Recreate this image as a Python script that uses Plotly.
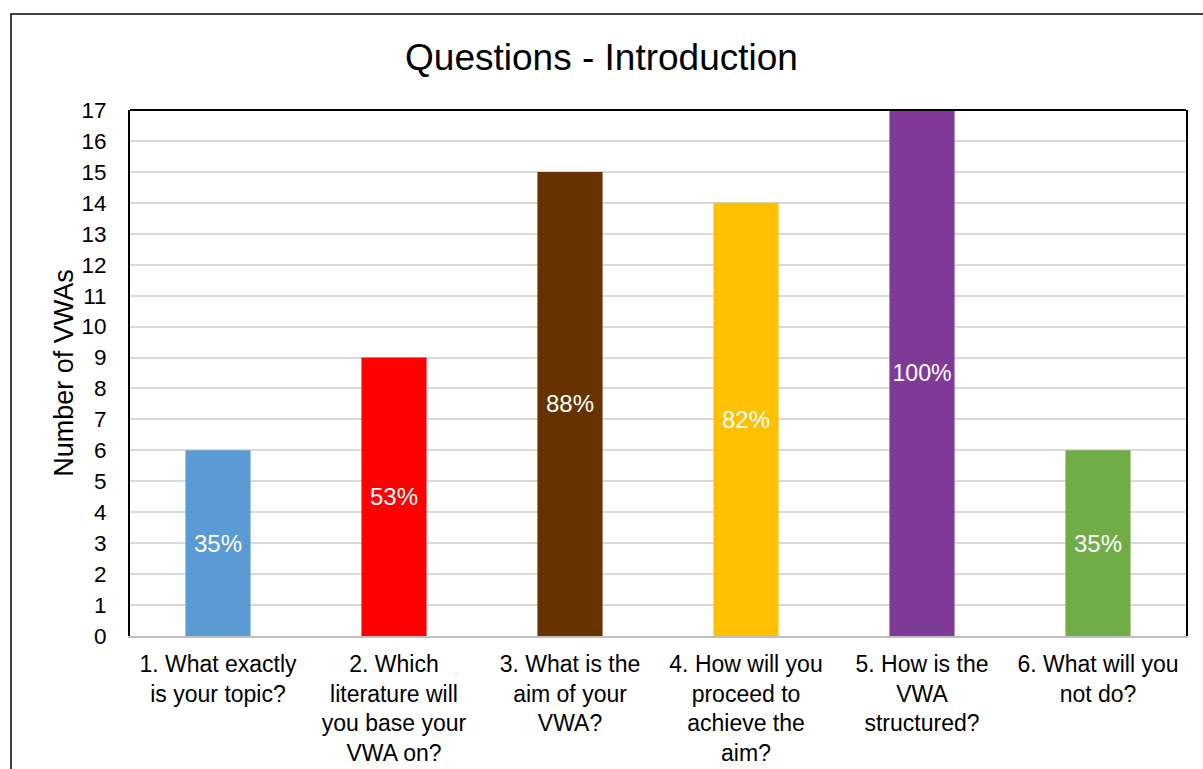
import plotly.graph_objects as go

# Survey counts per introduction question (out of 17 VWAs)
questions = [
    "1. What exactly<br>is your topic?",
    "2. Which<br>literature will<br>you base your<br>VWA on?",
    "3. What is the<br>aim of your<br>VWA?",
    "4. How will you<br>proceed to<br>achieve the<br>aim?",
    "5. How is the<br>VWA<br>structured?",
    "6. What will you<br>not do?",
]
counts = [6, 9, 15, 14, 17, 6]
share_labels = ["35%", "53%", "88%", "82%", "100%", "35%"]
bar_colors = ["#5B9BD5", "#FF0000", "#663300", "#FFC000", "#7E3A96", "#70AD47"]
y_ticks = list(range(0, 18))

font_family = "Liberation Sans, Arial, sans-serif"

fig = go.Figure(
    go.Bar(
        x=questions,
        y=counts,
        text=share_labels,
        textposition="inside",
        insidetextanchor="middle",
        textangle=0,
        textfont=dict(color="white", size=24, family=font_family),
        marker=dict(color=bar_colors, line=dict(width=0)),
        hoverinfo="skip",
    )
)

fig.update_layout(
    width=1203,
    height=769,
    margin=dict(l=130, r=17, t=110, b=133),
    paper_bgcolor="white",
    plot_bgcolor="white",
    bargap=0.63,
    showlegend=False,
    font=dict(family=font_family, color="#000000"),
    title=dict(
        text="Questions - Introduction",
        x=0.5,
        xref="container",
        xanchor="center",
        y=1 - 57 / 769,
        yref="container",
        yanchor="middle",
        font=dict(size=37, family=font_family, color="#000000"),
    ),
    uniformtext=dict(mode=False),
)

fig.update_xaxes(
    automargin=False,
    showgrid=False,
    showline=True,
    linecolor="#BFBFBF",
    linewidth=2,
    ticks="",
    ticklabelstandoff=6,
    tickfont=dict(size=23, family=font_family, color="#000000"),
)
fig.update_yaxes(
    automargin=False,
    range=[0, 17],
    tickvals=y_ticks,
    showgrid=True,
    gridcolor="#D9D9D9",
    gridwidth=2,
    zeroline=False,
    showline=True,
    linecolor="#000000",
    linewidth=2,
    mirror=True,
    ticks="",
    ticklabelstandoff=17,
    tickfont=dict(size=22.5, family=font_family, color="#000000"),
    title=dict(
        text="Number of VWAs",
        font=dict(size=27, family=font_family, color="#000000"),
        standoff=0,
    ),
)

# Top edge of the plot frame
fig.add_shape(
    type="line", xref="paper", yref="paper",
    x0=0, x1=1, y0=1, y1=1,
    line=dict(color="#000000", width=2),
)
# Outer chart frame
fig.add_shape(
    type="rect", xref="paper", yref="paper",
    x0=(11 - 130) / 1056, x1=1.2,
    y0=-0.5, y1=1 + (110 - 14) / 526,
    line=dict(color="#000000", width=1.5),
    fillcolor="rgba(0,0,0,0)",
    layer="below",
)

fig.write_html("out.html")
